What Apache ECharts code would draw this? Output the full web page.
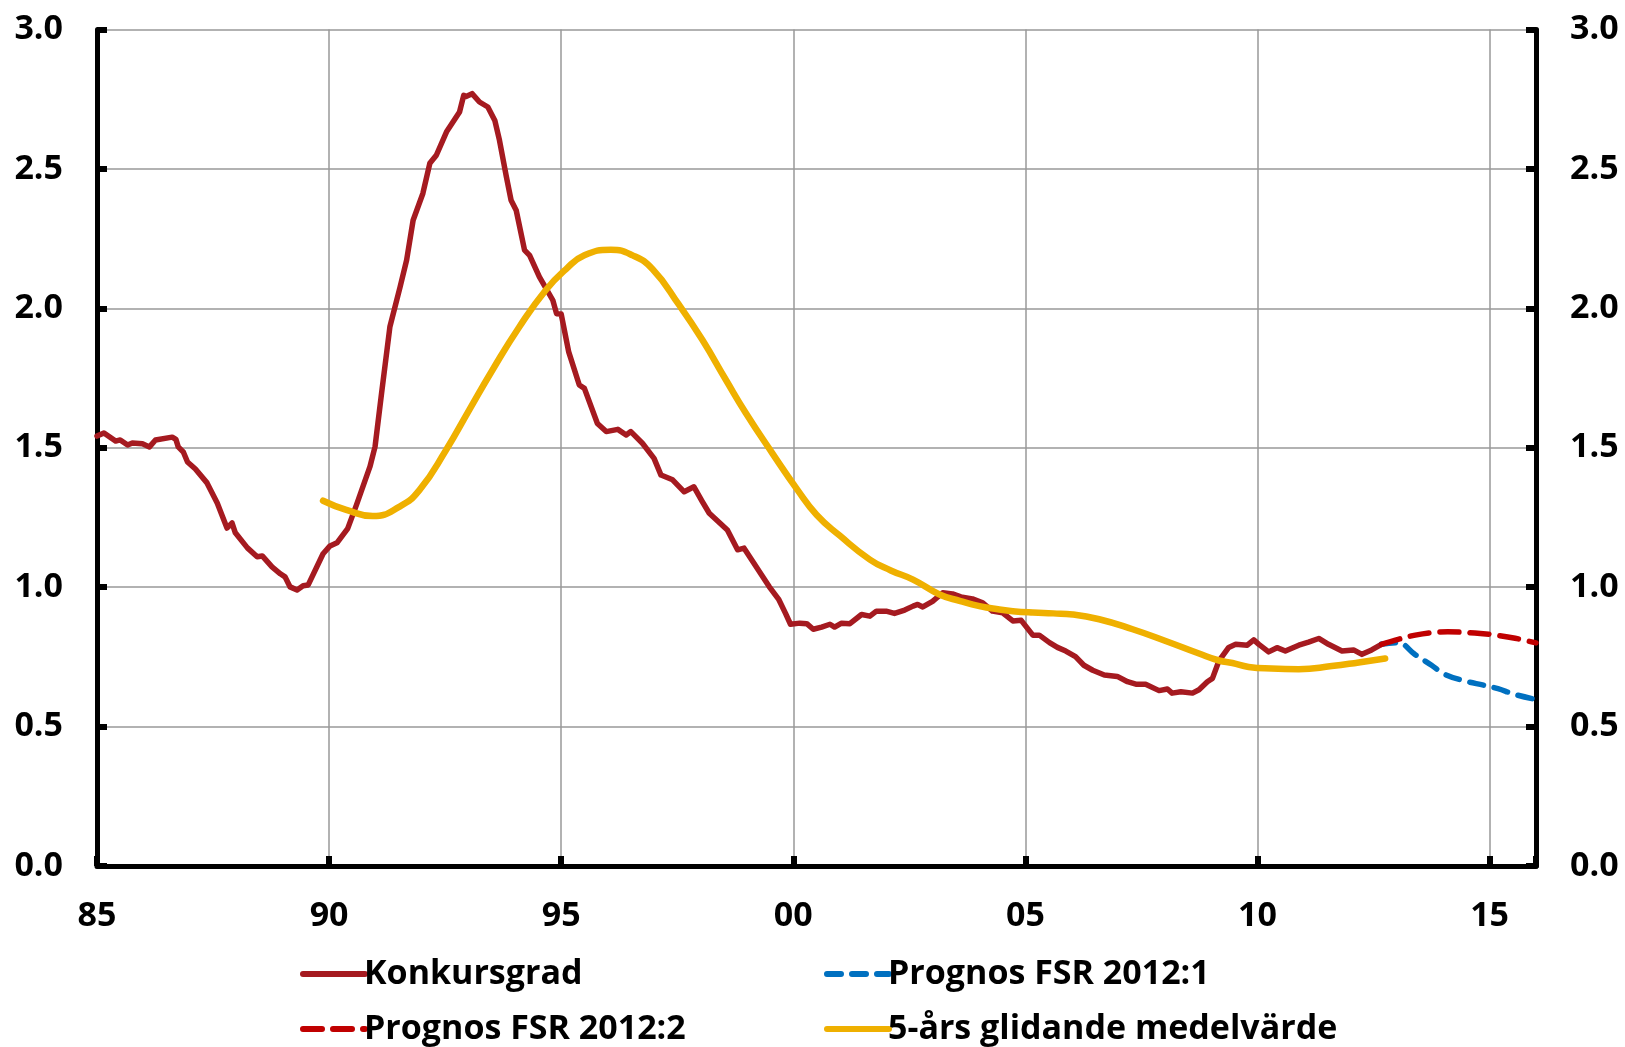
<!DOCTYPE html>
<html>
<head>
<meta charset="utf-8">
<script src="https://cdn.jsdelivr.net/npm/echarts@6/dist/echarts.min.js"></script>
<style>
    html, body { margin: 0; padding: 0; background: #fff; }
    #chart { width: 1625px; height: 1047px; }
</style>
</head>
<body>
<div id="chart"></div>
<script>
    // Konkursgrad (monthly series)
    var konkursYears = [1985.0, 1985.15, 1985.4, 1985.5, 1985.66, 1985.76, 1985.98, 1986.13, 1986.26, 1986.62, 1986.7, 1986.75, 1986.86, 1986.95,
        1987.12, 1987.37, 1987.59, 1987.8, 1987.91, 1987.98, 1988.24, 1988.45, 1988.56, 1988.77, 1988.95, 1989.05, 1989.16, 1989.31, 1989.44, 1989.55, 1989.87,
        1990.02, 1990.17, 1990.4, 1990.59, 1990.88, 1990.99, 1991.13, 1991.31, 1991.53, 1991.67, 1991.81, 1992.02, 1992.17, 1992.31, 1992.53, 1992.81, 1992.9, 1992.95,
        1993.08, 1993.24, 1993.42, 1993.57, 1993.67, 1993.82, 1993.92, 1994.03, 1994.21, 1994.32, 1994.53, 1994.82, 1994.9, 1995.0,
        1995.16, 1995.39, 1995.5, 1995.78, 1995.97, 1996.22, 1996.4, 1996.5, 1996.75, 1997.0, 1997.15, 1997.4, 1997.65, 1997.86,
        1998.04, 1998.19, 1998.58, 1998.8, 1998.94, 1999.48, 1999.69, 1999.83, 1999.94, 2000.14, 2000.29, 2000.43, 2000.61, 2000.79, 2000.89,
        2001.04, 2001.22, 2001.47, 2001.65, 2001.79, 2002.0, 2002.18, 2002.4, 2002.58, 2002.68, 2002.79, 2003.0, 2003.22, 2003.43, 2003.61, 2003.86,
        2004.08, 2004.29, 2004.51, 2004.73, 2004.91, 2005.16, 2005.3, 2005.52, 2005.69, 2005.87, 2006.08, 2006.26, 2006.45, 2006.7, 2006.98,
        2007.2, 2007.38, 2007.59, 2007.88, 2008.06, 2008.16, 2008.35, 2008.6, 2008.74, 2008.92, 2009.03, 2009.17, 2009.38, 2009.53, 2009.78, 2009.92,
        2010.03, 2010.24, 2010.42, 2010.6, 2010.89, 2011.1, 2011.32, 2011.53, 2011.82, 2012.07, 2012.25, 2012.46, 2012.67];
    var konkursValues = [1.542, 1.553, 1.524, 1.528, 1.51, 1.517, 1.514, 1.503, 1.528, 1.538, 1.53, 1.503, 1.485, 1.449,
        1.424, 1.374, 1.302, 1.212, 1.23, 1.195, 1.141, 1.109, 1.112, 1.073, 1.048, 1.037, 1.001, 0.99, 1.005, 1.008, 1.12,
        1.148, 1.159, 1.21, 1.295, 1.432, 1.504, 1.695, 1.934, 2.077, 2.173, 2.316, 2.412, 2.52, 2.549, 2.633, 2.704, 2.764, 2.76,
        2.77, 2.74, 2.722, 2.674, 2.603, 2.471, 2.388, 2.352, 2.209, 2.19, 2.113, 2.029, 1.981, 1.98,
        1.845, 1.725, 1.713, 1.587, 1.558, 1.566, 1.546, 1.558, 1.516, 1.462, 1.402, 1.385, 1.342, 1.36,
        1.307, 1.265, 1.205, 1.134, 1.14, 1.002, 0.955, 0.907, 0.867, 0.871, 0.869, 0.849, 0.857, 0.867, 0.857,
        0.871, 0.869, 0.902, 0.896, 0.914, 0.914, 0.906, 0.918, 0.932, 0.938, 0.929, 0.949, 0.98, 0.976, 0.965, 0.958,
        0.944, 0.914, 0.908, 0.879, 0.881, 0.828, 0.828, 0.801, 0.784, 0.771, 0.751, 0.72, 0.702, 0.685, 0.68,
        0.661, 0.652, 0.652, 0.629, 0.635, 0.62, 0.625, 0.62, 0.632, 0.661, 0.673, 0.736, 0.784, 0.795, 0.792, 0.811,
        0.795, 0.768, 0.783, 0.771, 0.792, 0.803, 0.816, 0.795, 0.771, 0.775, 0.759, 0.775, 0.795];

    // Prognos FSR 2012:1
    var fsr1Years = [2012.67, 2013.03, 2013.39, 2013.75, 2014.03, 2014.46, 2014.89, 2015.18, 2015.53, 2016.0];
    var fsr1Values = [0.795, 0.801, 0.759, 0.72, 0.688, 0.664, 0.648, 0.636, 0.616, 0.597];

    // Prognos FSR 2012:2
    var fsr2Years = [2012.67, 2013.03, 2013.4, 2013.75, 2014.1, 2014.46, 2014.8, 2015.18, 2015.55, 2016.0];
    var fsr2Values = [0.795, 0.813, 0.828, 0.837, 0.84, 0.838, 0.834, 0.827, 0.817, 0.80];

    // 5-års glidande medelvärde
    var avgYears = [1989.87, 1990.37, 1990.94, 1991.52, 1991.95, 1992.52, 1993.02, 1993.52, 1994.1, 1994.67, 1995.1, 1995.5,
        1996.07, 1996.54, 1996.97, 1997.54, 1998.04, 1998.55, 1998.98, 1999.55, 2000.09, 2000.5, 2001.0, 2001.65, 2002.1, 2002.58,
        2003.15, 2003.6, 2004.01, 2004.44, 2004.73, 2005.16, 2005.6, 2006.02, 2006.59, 2007.31, 2008.02, 2008.74, 2009.17, 2009.46,
        2009.81, 2010.3, 2010.89, 2011.6, 2012.18, 2012.75];
    var avgValues = [1.31, 1.277, 1.255, 1.289, 1.349, 1.492, 1.636, 1.779, 1.934, 2.066, 2.14, 2.19,
        2.21, 2.19, 2.14, 2.012, 1.887, 1.743, 1.624, 1.48, 1.349, 1.26, 1.185, 1.099, 1.06, 1.027,
        0.974, 0.95, 0.932, 0.92, 0.914, 0.909, 0.906, 0.902, 0.885, 0.849, 0.807, 0.762, 0.737, 0.728,
        0.714, 0.708, 0.706, 0.717, 0.73, 0.744];

    function pairs(xs, ys) {
        var out = [];
        for (var i = 0; i < xs.length; i++) {
            out.push([xs[i], ys[i]]);
        }
        return out;
    }

    var FONT = '"Open Sans", "Noto Sans", sans-serif';

    var yAxisBase = {
        type: 'value',
        min: 0,
        max: 3,
        interval: 0.5,
        axisLine: { show: true, lineStyle: { color: '#000', width: 5 } },
        axisTick: { show: true, inside: true, length: 10, lineStyle: { color: '#000', width: 6 } },
        axisLabel: {
            margin: 34,
            color: '#000',
            fontFamily: FONT,
            fontWeight: 'bold',
            fontSize: 34,
            formatter: function (v) { return v.toFixed(1); }
        }
    };

    var legendBase = {
        orient: 'vertical',
        top: 956,
        height: 120,
        padding: 0,
        itemWidth: 62,
        itemHeight: 14,
        itemGap: 19,
        itemStyle: { opacity: 0 },
        lineStyle: { width: 6, cap: 'round' },
        textStyle: { color: '#000', fontFamily: FONT, fontWeight: 'bold', fontSize: 34, lineHeight: 36, padding: [0, 0, 0, -6] }
    };

    var mycharts = echarts.init(document.getElementById('chart'));
    var option = {
        animation: false,
        backgroundColor: '#fff',
        grid: {
            left: 97,
            right: 89,
            top: 29.5,
            bottom: 181,
            containLabel: false,
            outerBoundsMode: 'none'
        },
        legend: [
            echarts.util.merge({ data: ['Konkursgrad', 'Prognos FSR 2012:2'], left: 300 }, legendBase, true),
            echarts.util.merge({ data: ['Prognos FSR 2012:1', '5-års glidande medelvärde'], left: 824 }, legendBase, true)
        ],
        xAxis: {
            type: 'value',
            min: 1985,
            max: 2016,
            interval: 5,
            axisLine: { show: true, onZero: false, lineStyle: { color: '#000', width: 5 } },
            axisTick: { show: true, inside: true, length: 10, lineStyle: { color: '#000', width: 6 } },
            splitLine: { show: true, lineStyle: { color: '#999', width: 1.5 } },
            axisLabel: {
                margin: 33,
                color: '#000',
                fontFamily: FONT,
                fontWeight: 'bold',
                fontSize: 34,
                formatter: function (v) {
                    if (v % 5 !== 0) return '';
                    var s = String(v % 100);
                    return s.length < 2 ? '0' + s : s;
                }
            }
        },
        yAxis: [
            echarts.util.merge({
                position: 'left',
                splitLine: { show: true, lineStyle: { color: '#999', width: 1.5 } }
            }, yAxisBase, true),
            echarts.util.merge({
                position: 'right',
                splitLine: { show: false }
            }, yAxisBase, true)
        ],
        series: [
            {
                name: 'Konkursgrad',
                type: 'line',
                symbol: 'none',
                data: pairs(konkursYears, konkursValues),
                lineStyle: { color: '#A51A20', width: 5.5, join: 'round', cap: 'round' },
                itemStyle: { color: '#A51A20' }
            },
            {
                name: 'Prognos FSR 2012:1',
                type: 'line',
                symbol: 'none',
                smooth: 0.4,
                data: pairs(fsr1Years, fsr1Values),
                lineStyle: { color: '#0070C0', width: 5.5, type: [14, 11], cap: 'round' },
                itemStyle: { color: '#0070C0' }
            },
            {
                name: 'Prognos FSR 2012:2',
                type: 'line',
                symbol: 'none',
                smooth: 0.4,
                data: pairs(fsr2Years, fsr2Values),
                lineStyle: { color: '#C00000', width: 5.5, type: [19, 11], cap: 'round' },
                itemStyle: { color: '#C00000' }
            },
            {
                name: '5-års glidande medelvärde',
                type: 'line',
                symbol: 'none',
                smooth: 0.5,
                data: pairs(avgYears, avgValues),
                lineStyle: { color: '#EFB000', width: 6.5, cap: 'round' },
                itemStyle: { color: '#EFB000' }
            }
        ]
    };
    mycharts.setOption(option);
</script>
</body>
</html>
